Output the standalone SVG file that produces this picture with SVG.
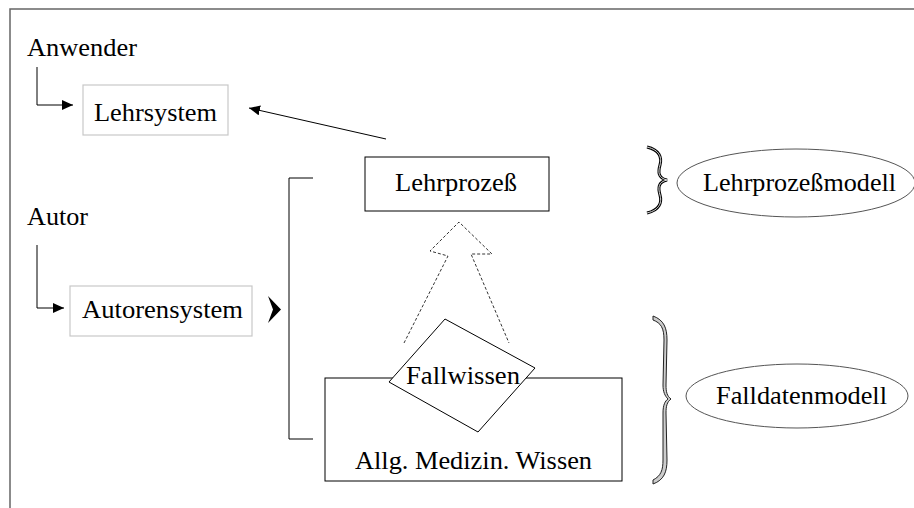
<svg xmlns="http://www.w3.org/2000/svg" width="914" height="508" viewBox="0 0 914 508">
<style>
text{font-family:"Liberation Serif","Times New Roman",serif;font-size:26px;fill:#000}
.ln{fill:none;stroke:#000;stroke-width:1}
.gbox{fill:#fff;stroke:#c8c8c8;stroke-width:1.2}
.box{fill:#fff;stroke:#000;stroke-width:1}
.ell{fill:#fff;stroke:#555;stroke-width:1}
.dash{fill:none;stroke:#000;stroke-width:0.8;stroke-dasharray:3,2}
</style>
<defs>
<marker id="ah" markerWidth="12" markerHeight="10" refX="11" refY="5" orient="auto" markerUnits="userSpaceOnUse">
<path d="M0,0 L11,5 L0,10 Z" fill="#000"/>
</marker>
</defs>
<rect x="10" y="9" width="920" height="520" fill="none" stroke="#666" stroke-width="1.5"/>

<g id="connectors">
<path class="ln" d="M37,67 V105 H73" marker-end="url(#ah)"/>
<path class="ln" d="M37,245 V308 H64" marker-end="url(#ah)"/>
<path class="ln" d="M386,139 L249,108" marker-end="url(#ah)"/>
<path class="ln" d="M313,178 H289 V439 H313"/>
<polygon points="268,296 281,309.5 268,323 273,309.5" fill="#000"/>
<path class="dash" d="M404,343 L448,256 L430,251 L459,222 L492,254 L471,254 L509,343"/>
</g>

<g id="anwender">
<text x="27" y="56" textLength="110" lengthAdjust="spacingAndGlyphs">Anwender</text>
</g>
<g id="lehrsystem">
<rect class="gbox" x="83" y="85" width="145" height="50"/>
<text x="94" y="121" textLength="123" lengthAdjust="spacingAndGlyphs">Lehrsystem</text>
</g>
<g id="autor">
<text x="27" y="225" textLength="61" lengthAdjust="spacingAndGlyphs">Autor</text>
</g>
<g id="autorensystem">
<rect class="gbox" x="70" y="286" width="182" height="50"/>
<text x="82" y="318" textLength="161" lengthAdjust="spacingAndGlyphs">Autorensystem</text>
</g>
<g id="lehrprozess">
<rect class="box" x="365" y="157" width="184" height="54"/>
<text x="395" y="191" textLength="122" lengthAdjust="spacingAndGlyphs">Lehrprozeß</text>
</g>
<g id="allg-medizin-wissen">
<rect class="box" x="325" y="378" width="297" height="103"/>
<text x="355" y="469" textLength="237" lengthAdjust="spacingAndGlyphs">Allg. Medizin. Wissen</text>
</g>
<g id="fallwissen">
<polygon class="box" points="445,319 535,368 478,432 389,382"/>
<text x="406" y="384" textLength="114" lengthAdjust="spacingAndGlyphs">Fallwissen</text>
</g>
<g id="brace-lehrprozessmodell">
<path d="M647,147 C660,150 662,158 660,165 C658,172 658,178 667,180 C658,182 658,188 660,195 C662,202 660,210 647,213" fill="none" stroke="#000" stroke-width="3"/>
<path d="M647,147 C660,150 662,158 660,165 C658,172 658,178 667,180 C658,182 658,188 660,195 C662,202 660,210 647,213" fill="none" stroke="#ddd" stroke-width="1"/>
</g>
<g id="lehrprozessmodell">
<ellipse class="ell" cx="796" cy="183" rx="119" ry="34"/>
<text x="703" y="191" textLength="193" lengthAdjust="spacingAndGlyphs">Lehrprozeßmodell</text>
</g>
<g id="brace-falldatenmodell">
<path d="M653,316 C664,320 667,328 667,340 L666,385 C666,392 667,396 671,399 C667,402 666,406 666,413 L667,460 C667,472 664,480 653,484 L653,480 C661,476 663,470 663,460 L663,413 C663,405 665,401 668,399 C665,396 663,392 663,385 L664,340 C664,328 661,323 653,320 Z" fill="#ccc" stroke="#222" stroke-width="1"/>
</g>
<g id="falldatenmodell">
<ellipse class="ell" cx="797" cy="396" rx="111" ry="32"/>
<text x="716" y="404" textLength="171" lengthAdjust="spacingAndGlyphs">Falldatenmodell</text>
</g>
</svg>
